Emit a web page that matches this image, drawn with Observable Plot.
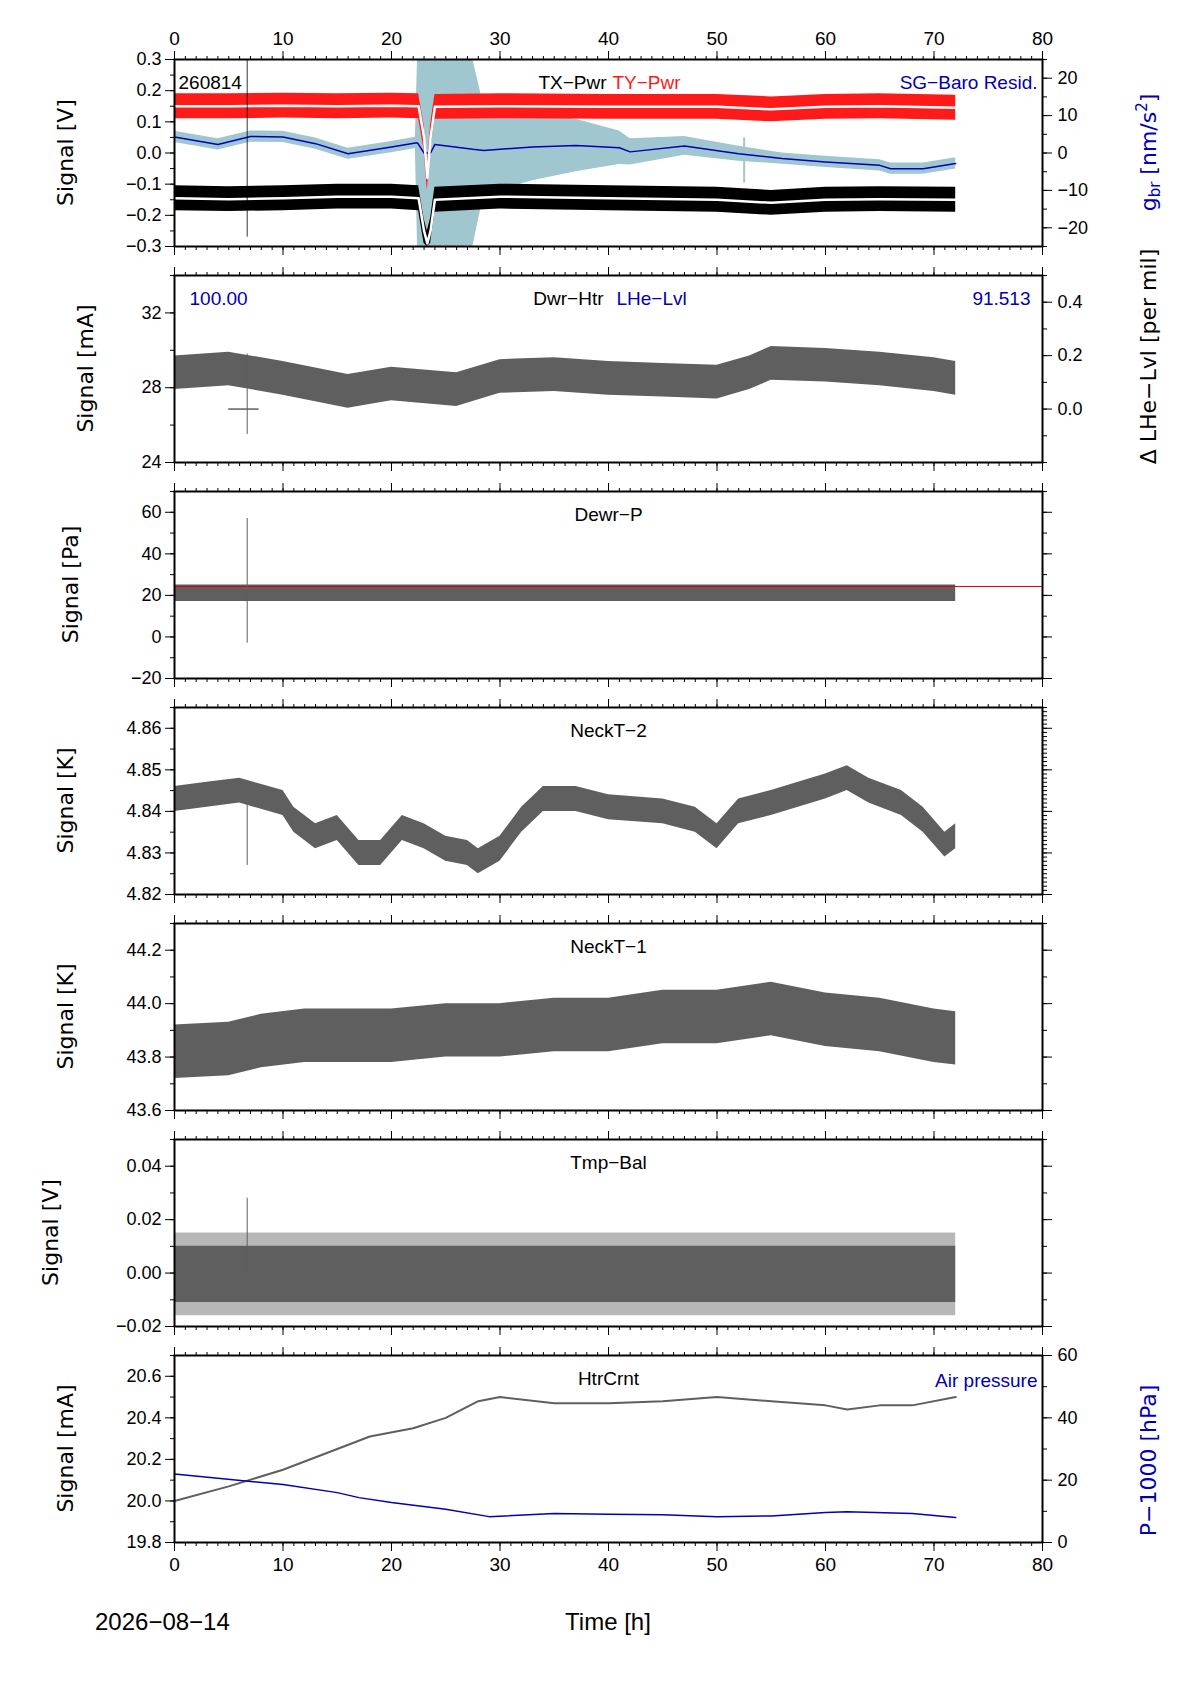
<!DOCTYPE html>
<html><head><meta charset="utf-8">
<script src="https://cdn.jsdelivr.net/npm/d3@7"></script>
<script src="https://cdn.jsdelivr.net/npm/@observablehq/plot@0.6"></script>
<style>body{margin:0;background:#fff;font-family:"Liberation Sans",Arial,sans-serif}#c{position:relative;width:1190px;height:1684px}#c svg{position:absolute;left:0}</style>
</head><body><div id="c"></div>
<script>
// ---------- data ----------
const hours = [0,4,7,10,13,16,20,22.2,22.4,23,23.3,23.6,24,27.5,28.5,33,37,41,42,47,52,56,60,65,66,69,72];
const sgBaro = [4.3,2.3,4.4,4.3,2.5,-0.2,1.6,2.7,2.7,0,-25,0,2.3,1.0,0.7,1.6,2.0,1.4,0.3,1.9,-0.2,-1.5,-2.4,-3.3,-4.2,-4.2,-2.8];
const sgNoise = [1.5,1.5,1.5,1.5,1.5,1.5,1.5,1.5,50,50,50,50,50,50,12,9,7,4.5,3.5,2.5,2,1.5,1.5,1.5,1.5,1.5,1.5];
const pwrT = [0,5,10,15,20,22.5,23,23.3,23.6,24,30,40,50,55,60,65,72];
const tyMid = [0.150,0.150,0.152,0.150,0.152,0.150,0.05,-0.08,0.05,0.148,0.150,0.148,0.148,0.140,0.148,0.150,0.145];
const txMid = [-0.145,-0.148,-0.145,-0.140,-0.140,-0.145,-0.25,-0.29,-0.25,-0.150,-0.140,-0.145,-0.150,-0.160,-0.150,-0.148,-0.150];
const pwrNoise = 0.04;
const dwrT = [0,5,10,16,20,26,30,35,40,45,50,53,55,60,65,70,72];
const dwrHtr = [28.8,29.0,28.5,27.8,28.2,27.9,28.6,28.7,28.5,28.4,28.3,28.8,29.3,29.2,29.0,28.7,28.5];
const dwrNoise = 0.9;
const dewrT = [0,10,20,30,40,50,60,72];
const dewrP = [21,21,21,21,21,21,21,21];
const dewrNoise = 4;
const dewrRef = 24.3;
const neck2T = [0,3,6,10,11,13,15,17,19,21,23,25,27,28,30,32,34,37,40,45,48,50,52,55,60,62,64,67,69,71,72];
const neck2 = [4.843,4.844,4.845,4.842,4.838,4.834,4.836,4.830,4.830,4.836,4.834,4.831,4.830,4.828,4.831,4.838,4.843,4.843,4.841,4.840,4.838,4.834,4.840,4.842,4.846,4.848,4.845,4.842,4.838,4.832,4.834];
const neck2Noise = 0.003;
const neck1T = [0,5,8,12,20,25,30,35,40,45,50,55,60,65,70,72];
const neck1 = [43.82,43.83,43.86,43.88,43.88,43.90,43.90,43.92,43.92,43.95,43.95,43.98,43.94,43.92,43.88,43.87];
const neck1Noise = 0.1;
const balT = [0,72];
const balLo = [-0.011,-0.011], balHi = [0.010,0.010];
const balOutLo = [-0.016,-0.016], balOutHi = [0.015,0.015];
const htrT = [0,5,10,15,18,22,25,28,30,35,40,45,50,55,60,62,65,68,72];
const htr = [20.0,20.07,20.15,20.25,20.31,20.35,20.40,20.48,20.50,20.47,20.47,20.48,20.50,20.48,20.46,20.44,20.46,20.46,20.50];
const presT = [0,10,15,17,20,25,29,35,40,45,50,55,60,62,68,72];
const pres = [22,18.6,16,14.4,12.8,10.7,8.3,9.3,9.1,8.9,8.3,8.5,9.6,9.9,9.3,8];
const spikeT = 6.7;
const xTicks = [0,10,20,30,40,50,60,70,80];

// ---------- helpers ----------
const W=1190, L=174, R=1042, H=187, MT=40, MB=40;
const tops=[59,275,491,707,923,1139,1355];
const GRAY="#5f5f5f", BLUE="#0000b4", LBLUE="#a0c6d0";
const rows=(ts,f)=>ts.map((t,i)=>f(t,i));
const range=(a,b,s)=>{const r=[];for(let v=a;v<=b+s*1e-6;v+=s)r.push(+v.toFixed(6));return r;};

function xAxes(showTop, showBottom){
  const blank=()=> "";
  return [
    Plot.axisX({anchor:"top",ticks:range(0,80,1),tickSize:4,tickFormat:blank,label:null}),
    Plot.axisX({anchor:"top",ticks:xTicks,tickSize:9,tickFormat:showTop?(d=>d):blank,label:null,fontSize:19,tickPadding:6}),
    Plot.axisX({anchor:"bottom",ticks:range(0,80,1),tickSize:4,tickFormat:blank,label:null}),
    Plot.axisX({anchor:"bottom",ticks:xTicks,tickSize:9,tickFormat:showBottom?(d=>d):blank,label:null,fontSize:19,tickPadding:6})
  ];
}
function yAxes(c){
  const blank=()=> "";
  const m=[
    Plot.axisY({anchor:"left",ticks:c.minor,tickSize:4,tickFormat:blank,label:null}),
    Plot.axisY({anchor:"left",ticks:c.major,tickSize:9,tickFormat:c.fmt,label:null,fontSize:18,tickPadding:4})
  ];
  if(c.right){
    m.push(Plot.axisY({anchor:"right",ticks:c.right.minor.map(c.right.f),tickSize:4,tickFormat:blank,label:null}));
    m.push(Plot.axisY({anchor:"right",ticks:c.right.major.map(c.right.f),tickSize:9,tickFormat:(d,i)=>c.right.labels[i],label:null,fontSize:18,tickPadding:6}));
  } else {
    m.push(Plot.axisY({anchor:"right",ticks:c.rminor||c.minor,tickSize:4,tickFormat:blank,label:null}));
    m.push(Plot.axisY({anchor:"right",ticks:c.major,tickSize:9,tickFormat:blank,label:null}));
  }
  return m;
}
const container=document.getElementById("c");
function panel(i,c){
  const svg=Plot.plot({
    width:W,height:H+MT+MB,marginLeft:L,marginRight:W-R,marginTop:MT,marginBottom:MB,
    x:{domain:[0,80]},y:{domain:c.dom},
    style:{background:"transparent",fontFamily:"Liberation Sans, Arial, sans-serif",fontSize:"18px",overflow:"visible",color:"black"},
    marks:[...c.marks, Plot.frame({stroke:"black",strokeWidth:2}), ...xAxes(i===0,i===6), ...yAxes(c)]
  });
  svg.style.top=(tops[i]-MT)+"px";
  const s=d3.select(svg);
  const cy=MT+H/2;
  s.append("text").attr("transform",`translate(${c.lx},${cy}) rotate(-90)`).attr("text-anchor","middle")
   .attr("dominant-baseline","middle").attr("font-size",22).attr("font-family","DejaVu Sans, sans-serif").text(c.ylabel);
  if(c.rtitle) c.rtitle(s);
  container.appendChild(svg);
}
const T=(txt,o)=>Plot.text([txt],{frameAnchor:o.a||"top",textAnchor:o.ta||"middle",dx:o.dx||0,dy:o.dy||16,fill:o.fill||"black",fontSize:19,text:d=>d});

// Panel 1
const g2v=g=>g*0.012;
panel(0,{dom:[-0.3,0.3],major:range(-0.3,0.3,0.1),minor:range(-0.3,0.3,0.05),fmt:d3.format(".1f"),lx:67,ylabel:"Signal [V]",
  right:{f:g2v,major:[-20,-10,0,10,20],minor:range(-25,25,5),labels:["−20","−10","0","10","20"]},
  marks:[
    Plot.areaY(rows(hours,(t,i)=>({t,lo:g2v(Math.max(-25,sgBaro[i]-sgNoise[i])),hi:g2v(Math.min(25,sgBaro[i]+sgNoise[i]))})),{x:"t",y1:"lo",y2:"hi",fill:LBLUE}),
    Plot.ruleX([52.5],{y1:g2v(-8),y2:g2v(4),stroke:LBLUE,strokeWidth:2}),
    Plot.line(rows(hours,(t,i)=>({t,v:g2v(sgBaro[i])})).filter(d=>Math.abs(d.v)<0.29),{x:"t",y:"v",stroke:BLUE,strokeWidth:1.5}),
    Plot.areaY(rows(pwrT,(t,i)=>({t,lo:tyMid[i]-pwrNoise,hi:tyMid[i]+pwrNoise})),{x:"t",y1:"lo",y2:"hi",fill:"#ff1a1a"}),
    Plot.line(rows(pwrT,(t,i)=>({t,v:tyMid[i]})),{x:"t",y:"v",stroke:"white",strokeWidth:2.5}),
    Plot.areaY(rows(pwrT,(t,i)=>({t,lo:Math.max(-0.3,txMid[i]-pwrNoise),hi:txMid[i]+pwrNoise})),{x:"t",y1:"lo",y2:"hi",fill:"black"}),
    Plot.line(rows(pwrT,(t,i)=>({t,v:txMid[i]})),{x:"t",y:"v",stroke:"white",strokeWidth:2.5}),
    Plot.ruleX([spikeT],{y1:-0.27,y2:0.3,stroke:"black",strokeWidth:0.8}),
    T("260814",{a:"top-left",ta:"start",dx:4}),
    T("TX−Pwr",{ta:"end",dx:-2}),
    T("TY−Pwr",{ta:"start",dx:4,fill:"#ff1a1a"}),
    T("SG−Baro Resid.",{a:"top-right",ta:"end",dx:-5,fill:BLUE})
  ],
  rtitle:s=>{const t=s.append("text").attr("transform",`translate(1150,${MT+H/2}) rotate(-90)`).attr("text-anchor","middle").attr("dominant-baseline","middle").attr("font-size",22).attr("fill",BLUE).attr("font-family","DejaVu Sans, sans-serif");
    t.append("tspan").text("g");t.append("tspan").attr("font-size",15).attr("dy",5).text("br");t.append("tspan").attr("dy",-5).text(" [nm/s");t.append("tspan").attr("font-size",15).attr("dy",-8).text("2");t.append("tspan").attr("dy",8).text("]");}
});
// Panel 2
const l2v=v=>24+(v+0.2)/0.7*10;
panel(1,{dom:[24,34],major:[24,28,32],minor:range(24,34,2),fmt:d=>d,lx:87,ylabel:"Signal [mA]",
  right:{f:l2v,major:[0,0.2,0.4],minor:range(-0.2,0.5,0.1),labels:["0.0","0.2","0.4"]},
  marks:[
    Plot.areaY(rows(dwrT,(t,i)=>({t,lo:dwrHtr[i]-dwrNoise,hi:dwrHtr[i]+dwrNoise})),{x:"t",y1:"lo",y2:"hi",fill:GRAY}),
    Plot.ruleX([spikeT],{y1:25.5,y2:29.8,stroke:GRAY,strokeWidth:1}),
    Plot.ruleY([l2v(0)],{x1:5,x2:7.8,stroke:GRAY,strokeWidth:1.5}),
    T("100.00",{a:"top-left",ta:"start",dx:15,fill:BLUE}),
    T("Dwr−Htr",{ta:"end",dx:-5}),
    T("LHe−Lvl",{ta:"start",dx:8,fill:BLUE}),
    T("91.513",{a:"top-right",ta:"end",dx:-12,fill:BLUE})
  ],
  rtitle:s=>s.append("text").attr("transform",`translate(1150,${MT+H/2-12}) rotate(-90)`).attr("text-anchor","middle").attr("dominant-baseline","middle").attr("font-size",22).attr("font-family","DejaVu Sans, sans-serif").text("Δ LHe−Lvl [per mil]")
});
// Panel 3
panel(2,{dom:[-20,70],major:[-20,0,20,40,60],minor:range(-20,70,10),fmt:d=>d<0?"−"+(-d):d,lx:72,ylabel:"Signal [Pa]",
  marks:[
    Plot.areaY(rows(dewrT,(t,i)=>({t,lo:dewrP[i]-dewrNoise,hi:dewrP[i]+dewrNoise})),{x:"t",y1:"lo",y2:"hi",fill:GRAY}),
    Plot.ruleY([dewrRef],{stroke:"#e00000",strokeWidth:1}),
    Plot.ruleX([spikeT],{y1:-3,y2:57,stroke:GRAY,strokeWidth:1}),
    T("Dewr−P",{})
  ]});
// Panel 4
panel(3,{dom:[4.82,4.865],major:[4.82,4.83,4.84,4.85,4.86],minor:range(4.82,4.865,0.005),rminor:range(4.82,4.865,0.001),fmt:d3.format(".2f"),lx:67,ylabel:"Signal [K]",
  marks:[
    Plot.areaY(rows(neck2T,(t,i)=>({t,lo:neck2[i]-neck2Noise,hi:neck2[i]+neck2Noise})),{x:"t",y1:"lo",y2:"hi",fill:GRAY}),
    Plot.ruleX([spikeT],{y1:4.827,y2:4.842,stroke:GRAY,strokeWidth:1}),
    T("NeckT−2",{})
  ]});
// Panel 5
panel(4,{dom:[43.6,44.3],major:[43.6,43.8,44.0,44.2],minor:range(43.6,44.3,0.1),fmt:d3.format(".1f"),lx:67,ylabel:"Signal [K]",
  marks:[
    Plot.areaY(rows(neck1T,(t,i)=>({t,lo:neck1[i]-neck1Noise,hi:neck1[i]+neck1Noise})),{x:"t",y1:"lo",y2:"hi",fill:GRAY}),
    T("NeckT−1",{})
  ]});
// Panel 6
panel(5,{dom:[-0.02,0.05],major:[-0.02,0,0.02,0.04],minor:range(-0.02,0.05,0.01),fmt:d3.format(".2f"),lx:52,ylabel:"Signal [V]",
  marks:[
    Plot.areaY(rows(balT,(t,i)=>({t,lo:balOutLo[i],hi:balOutHi[i]})),{x:"t",y1:"lo",y2:"hi",fill:GRAY,fillOpacity:0.45}),
    Plot.areaY(rows(balT,(t,i)=>({t,lo:balLo[i],hi:balHi[i]})),{x:"t",y1:"lo",y2:"hi",fill:GRAY}),
    Plot.ruleX([spikeT],{y1:0,y2:0.028,stroke:GRAY,strokeWidth:1}),
    T("Tmp−Bal",{})
  ]});
// Panel 7
const p2v=p=>19.8+p/60*0.9;
panel(6,{dom:[19.8,20.7],major:[19.8,20.0,20.2,20.4,20.6],minor:range(19.8,20.7,0.1),fmt:d3.format(".1f"),lx:67,ylabel:"Signal [mA]",
  right:{f:p2v,major:[0,20,40,60],minor:range(0,60,10),labels:["0","20","40","60"]},
  marks:[
    Plot.line(rows(htrT,(t,i)=>({t,v:htr[i]})),{x:"t",y:"v",stroke:GRAY,strokeWidth:2}),
    Plot.line(rows(presT,(t,i)=>({t,v:p2v(pres[i])})),{x:"t",y:"v",stroke:BLUE,strokeWidth:1.5}),
    T("HtrCrnt",{}),
    T("Air pressure",{a:"top-right",ta:"end",dx:-5,dy:18,fill:BLUE})
  ],
  rtitle:s=>{
    s.append("text").attr("transform",`translate(1150,${MT+H/2+12}) rotate(-90)`).attr("text-anchor","middle").attr("dominant-baseline","middle").attr("font-size",22).attr("fill",BLUE).attr("font-family","DejaVu Sans, sans-serif").text("P−1000 [hPa]");
    s.append("text").attr("x",608).attr("y",MT+H+88).attr("text-anchor","middle").attr("font-size",24).text("Time [h]");
    s.append("text").attr("x",95).attr("y",MT+H+88).attr("text-anchor","start").attr("font-size",24).text("2026−08−14");
  }
});
</script></body></html>
